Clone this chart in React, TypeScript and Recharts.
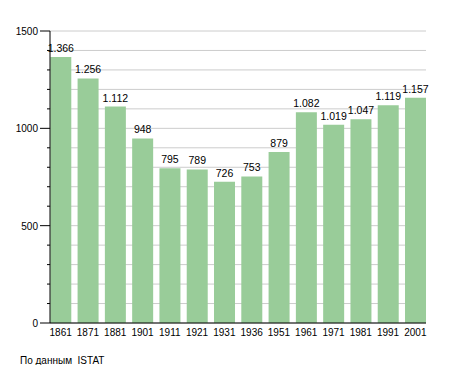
import { Bar, BarChart, CartesianGrid, LabelList, XAxis, YAxis } from "recharts";

const years = ["1861", "1871", "1881", "1901", "1911", "1921", "1931", "1936", "1951", "1961", "1971", "1981", "1991", "2001"];
const population = [1366, 1256, 1112, 948, 795, 789, 726, 753, 879, 1082, 1019, 1047, 1119, 1157];
const yTicks = Array.from({ length: 16 }, (_, i) => i * 100);

const FONT = "'Liberation Sans', Arial, sans-serif";

const fmt = (v: number) => (v >= 1000 ? `${Math.floor(v / 1000)}.${String(v % 1000).padStart(3, "0")}` : String(v));

function YTick(props: any) {
  const { x, y, payload } = props;
  const major = payload.value % 500 === 0;
  return (
    <g>
      <line x1={major ? x - 10 : x - 3} x2={x} y1={y} y2={y} stroke="#000" />
      {major && (
        <text x={x - 12} y={y + 4} textAnchor="end" fontSize={10} fill="#000" fontFamily={FONT}>
          {payload.value}
        </text>
      )}
    </g>
  );
}

export default function App() {
  const data = years.map((y, i) => ({ year: y, value: population[i] }));
  return (
    <div style={{ position: "relative", width: 455, height: 373, margin: -8, background: "#fff", fontFamily: FONT }}>
      <BarChart width={455} height={373} data={data} margin={{ top: 31, right: 29, left: 0, bottom: 0 }} barCategoryGap={3.3}>
        <CartesianGrid vertical={false} stroke="#cccccc" />
        <XAxis
          dataKey="year"
          height={50}
          padding={{ left: -3, right: -3 }}
          tickLine={false}
          axisLine={{ stroke: "#000" }}
          tick={{ fontSize: 10, fill: "#000", fontFamily: FONT }}
          tickSize={0}
          tickMargin={6}
          interval={0}
        />
        <YAxis
          width={50}
          domain={[0, 1500]}
          ticks={yTicks}
          interval={0}
          tickLine={false}
          tickSize={0}
          tickMargin={0}
          axisLine={{ stroke: "#000" }}
          tick={<YTick />}
        />
        <Bar dataKey="value" fill="#99cc99" isAnimationActive={false}>
          <LabelList dataKey="value" position="top" formatter={(v: any) => fmt(Number(v))} fontSize={10.5} fill="#000" fontFamily={FONT} />
        </Bar>
      </BarChart>
      <div style={{ position: "absolute", left: 20, top: 355, fontSize: 10, color: "#000" }}>По данным&nbsp; ISTAT</div>
    </div>
  );
}
